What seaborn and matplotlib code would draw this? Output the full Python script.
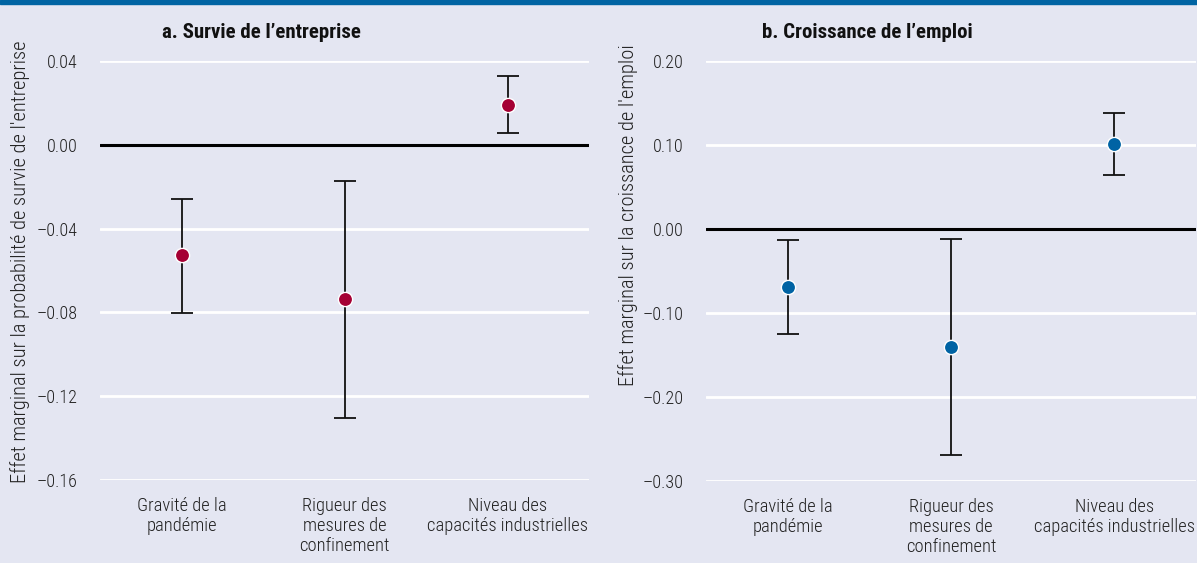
import matplotlib
matplotlib.use("Agg")
import matplotlib.pyplot as plt
from matplotlib import font_manager
from matplotlib.ticker import FuncFormatter
import seaborn as sns
import pandas as pd

categories = ["Gravité de la\npandémie", "Rigueur des\nmesures de\nconfinement", "Niveau des\ncapacités industrielles"]

surv_est = [-0.0525, -0.0735, 0.0191]
surv_lo = [-0.0802, -0.1303, 0.0057]
surv_hi = [-0.0258, -0.0172, 0.0329]

emp_est = [-0.069, -0.1405, 0.101]
emp_lo = [-0.125, -0.269, 0.064]
emp_hi = [-0.013, -0.012, 0.138]

titles = ["a. Survie de l\u2019entreprise", "b. Croissance de l\u2019emploi"]
ylabels = ["Effet marginal sur la probabilité de survie de l'entreprise",
           "Effet marginal sur la croissance de l'emploi"]
yticks_a = [0.04, 0.00, -0.04, -0.08, -0.12, -0.16]
yticks_b = [0.20, 0.10, 0.00, -0.10, -0.20, -0.30]

BG = "#E4E6F2"
sns.set_theme(style="darkgrid", rc={"axes.facecolor": BG, "figure.facecolor": BG,
                                    "grid.color": "white", "grid.linewidth": 2})
names = {f.name for f in font_manager.fontManager.ttflist}
fam = [f for f in ["Liberation Sans Narrow", "Roboto Condensed", "Liberation Sans", "DejaVu Sans"] if f in names]
plt.rcParams["font.family"] = fam
plt.rcParams["axes.unicode_minus"] = False

fig = plt.figure(figsize=(11.97, 5.63), dpi=100)
axA = fig.add_axes([100/1197, 1-480/563, 489/1197, 419/563])
axB = fig.add_axes([706/1197, 1-481/563, 490/1197, 420/563])

# top band
fig.patches.append(plt.Rectangle((0, 1-4/563), 1, 4/563, transform=fig.transFigure,
                                 color="#0064A3", zorder=10))

panels = [
    (axA, surv_est, surv_lo, surv_hi, yticks_a, "#A50034"),
    (axB, emp_est, emp_lo, emp_hi, yticks_b, "#0063A4"),
]
for i, (ax, est, lo, hi, yt, col) in enumerate(panels):
    df = pd.DataFrame({"cat": categories, "est": est, "lo": lo, "hi": hi})
    xs = list(range(len(categories)))
    ax.errorbar(xs, df["est"], yerr=[df["est"] - df["lo"], df["hi"] - df["est"]],
                fmt="none", ecolor="#111111", elinewidth=1.3, capsize=8, capthick=1.3, zorder=3)
    sns.scatterplot(x=xs, y=df["est"], ax=ax, color=col, s=105, edgecolor="white",
                    linewidth=1.0, zorder=4)
    ax.axhline(0, color="black", lw=2.2, zorder=2)
    ax.set_xlim(-0.5, 2.5)
    ax.set_ylim(min(yt), max(yt))
    ax.set_yticks(yt)
    ax.yaxis.set_major_formatter(FuncFormatter(lambda v, p: f"{v:.2f}".replace("-", "\u2013") if abs(v) > 1e-9 else "0.00"))
    ax.set_xticks(xs)
    ax.set_xticklabels(categories, fontsize=13.3, color="#222222", linespacing=1.15, fontweight="light")
    ax.tick_params(axis="y", labelsize=13, labelcolor="#222222", pad=10)
    for t in ax.get_yticklabels():
        t.set_fontweight("light")
    ax.tick_params(axis="x", pad=6)
    ax.grid(axis="x", visible=False)
    ax.set_xlabel("")
    ax.set_ylabel("")
    for s in ax.spines.values():
        s.set_visible(False)

fig.text(20/1197, 1-262/563, ylabels[0], rotation=90, ha="center", va="center", fontsize=14.8, color="#222222", fontweight="light")
fig.text(628/1197, 1-215/563, ylabels[1], rotation=90, ha="center", va="center", fontsize=14.8, color="#222222", fontweight="light")
fig.text(261/1197, 1-32/563, titles[0], ha="center", va="center", fontsize=15, fontweight="bold", color="#111111")
fig.text(867/1197, 1-32/563, titles[1], ha="center", va="center", fontsize=15, fontweight="bold", color="#111111")

fig.savefig("out.png", dpi=100, facecolor=BG)
